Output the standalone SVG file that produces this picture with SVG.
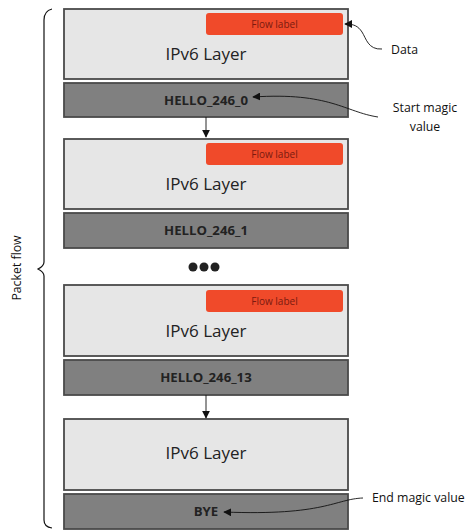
<svg xmlns="http://www.w3.org/2000/svg" width="468" height="530" viewBox="0 0 468 530">
<defs>
<style>
.light{fill:#e6e6e6;stroke:#4a4a4a;stroke-width:1.8}
.dark{fill:#808080;stroke:#4a4a4a;stroke-width:1.8}
.flow{fill:#f04a2a}
.ftxt{font-family:"Open Sans","DejaVu Sans",sans-serif;font-size:10px;fill:#7a1a10;text-anchor:middle}
.ipv6{font-family:"Open Sans","DejaVu Sans",sans-serif;font-size:17px;fill:#222;text-anchor:middle}
.hello{font-family:"Open Sans","DejaVu Sans",sans-serif;font-size:13.2px;font-weight:bold;fill:#222;text-anchor:middle}
.note{font-family:"Open Sans","DejaVu Sans",sans-serif;font-size:12.3px;fill:#111}
.conn{fill:none;stroke:#111;stroke-width:0.9}
</style>
<marker id="ah" viewBox="0 0 10 10" refX="9" refY="5" markerWidth="8" markerHeight="8" markerUnits="userSpaceOnUse" orient="auto">
<path d="M0,0 L10,5 L0,10 z" fill="#111"/>
</marker>
</defs>

<g id="ipv6-1">
<rect class="light" x="64" y="9" width="284" height="70"/>
<rect class="flow" x="206" y="13" width="137" height="22" rx="3"/>
<text class="ftxt" x="274.5" y="27.5">Flow label</text>
<text class="ipv6" x="206" y="60">IPv6 Layer</text>
</g>
<g id="hello-0">
<rect class="dark" x="64" y="83" width="284" height="34"/>
<text class="hello" x="206" y="104.5">HELLO_246_0</text>
</g>

<g id="ipv6-2">
<rect class="light" x="64" y="139" width="284" height="70"/>
<rect class="flow" x="206" y="143" width="137" height="22" rx="3"/>
<text class="ftxt" x="274.5" y="157.5">Flow label</text>
<text class="ipv6" x="206" y="190">IPv6 Layer</text>
</g>
<g id="hello-1">
<rect class="dark" x="64" y="213" width="284" height="35"/>
<text class="hello" x="206" y="235">HELLO_246_1</text>
</g>

<g id="ellipsis">
<circle cx="193" cy="267" r="4.5" fill="#222"/>
<circle cx="204" cy="267" r="4.5" fill="#222"/>
<circle cx="215" cy="267" r="4.5" fill="#222"/>
</g>

<g id="ipv6-3">
<rect class="light" x="64" y="285" width="284" height="71"/>
<rect class="flow" x="206" y="290" width="137" height="22" rx="3"/>
<text class="ftxt" x="274.5" y="304.5">Flow label</text>
<text class="ipv6" x="206" y="337">IPv6 Layer</text>
</g>
<g id="hello-13">
<rect class="dark" x="64" y="360" width="284" height="35"/>
<text class="hello" x="206" y="382">HELLO_246_13</text>
</g>

<g id="ipv6-4">
<rect class="light" x="64" y="419" width="284" height="71"/>
<text class="ipv6" x="206" y="459">IPv6 Layer</text>
</g>
<g id="bye">
<rect class="dark" x="64" y="494" width="284" height="35"/>
<text class="hello" x="206" y="515.5">BYE</text>
</g>

<g id="packet-flow">
<path d="M52,9 Q44,11 44,20 L44,262 Q44,266 38,269 Q44,272 44,276 L44,520 Q44,527 52,528" fill="none" stroke="#111" stroke-width="1.2"/>
<text class="note" transform="translate(21,268) rotate(-90)" text-anchor="middle">Packet flow</text>
</g>

<g id="labels">
<text class="note" x="391" y="54">Data</text>
<text class="note" x="425" y="112" text-anchor="middle">Start magic</text>
<text class="note" x="425" y="131" text-anchor="middle">value</text>
<text class="note" x="372" y="502">End magic value</text>
</g>

<g id="connectors">
<path class="conn" d="M206,117 L206,137" marker-end="url(#ah)"/>
<path class="conn" d="M206,395 L206,418" marker-end="url(#ah)"/>
<path class="conn" d="M382,49 C368,50 366,38 362,32 C358,26 354,24 345,24" marker-end="url(#ah)"/>
<path class="conn" d="M378,117 C345,112 330,92 253,97" marker-end="url(#ah)"/>
<path class="conn" d="M363,498 C335,499 325,516 224,512" marker-end="url(#ah)"/>
</g>
</svg>
